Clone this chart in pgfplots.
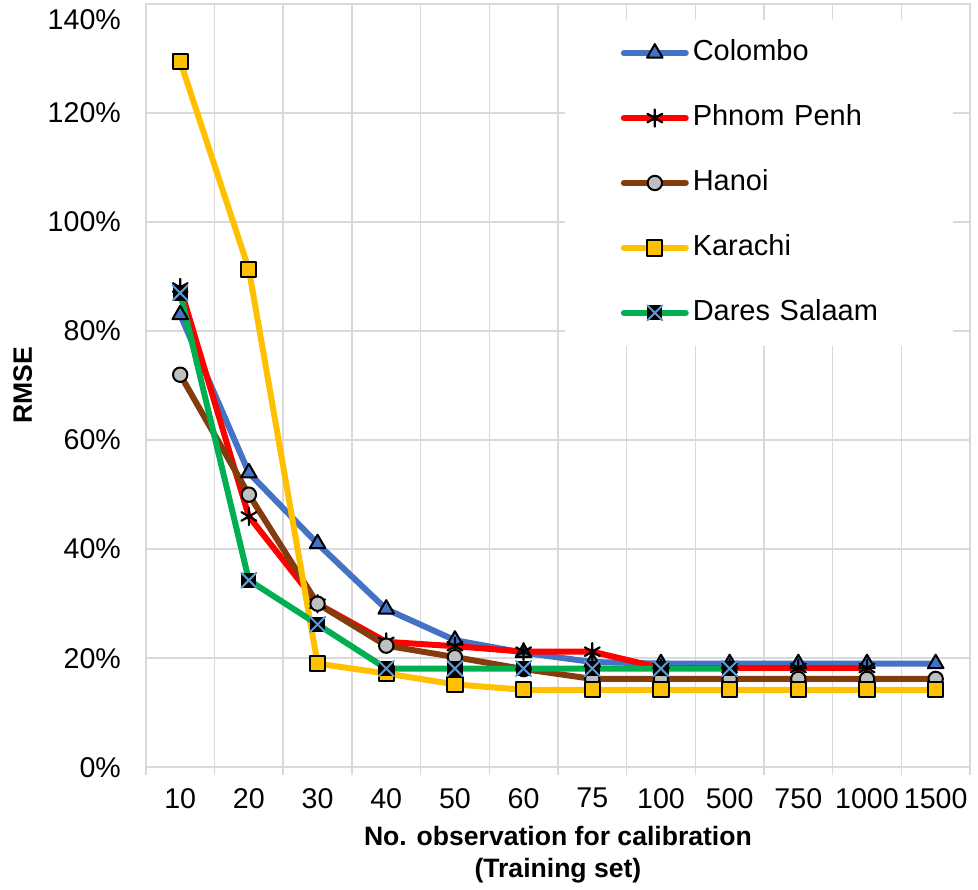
\documentclass[border=0pt]{standalone}
\usepackage{fontspec}
\setmainfont{Liberation Sans}
\usepackage{pgfplots}
\pgfplotsset{compat=1.18}

\definecolor{gridc}{HTML}{D9D9D9}
\definecolor{colombo}{HTML}{4472C4}
\definecolor{phnom}{HTML}{FF0000}
\definecolor{hanoi}{HTML}{843C0C}
\definecolor{hanoimk}{HTML}{BFBFBF}
\definecolor{karachi}{HTML}{FFC000}
\definecolor{dares}{HTML}{00B050}
\definecolor{daresx}{HTML}{5B9BD5}

% black square with a light blue cross (Excel style)
\pgfdeclareplotmark{sqx}{%
  \pgfpathrectangle{\pgfqpoint{-\pgfplotmarksize}{-\pgfplotmarksize}}{\pgfqpoint{2\pgfplotmarksize}{2\pgfplotmarksize}}%
  \pgfsetfillcolor{black}\pgfusepath{fill}%
  \pgfsetstrokecolor{daresx}\pgfsetlinewidth{1pt}%
  \pgfpathmoveto{\pgfqpoint{-\pgfplotmarksize}{-\pgfplotmarksize}}%
  \pgfpathlineto{\pgfqpoint{\pgfplotmarksize}{\pgfplotmarksize}}%
  \pgfpathmoveto{\pgfqpoint{-\pgfplotmarksize}{\pgfplotmarksize}}%
  \pgfpathlineto{\pgfqpoint{\pgfplotmarksize}{-\pgfplotmarksize}}%
  \pgfusepath{stroke}%
}

\begin{document}
\begin{tikzpicture}
\begin{axis}[
    scale only axis,
    width=412.5pt, height=382pt,
    xmin=-0.5, xmax=11.5,
    ymin=0, ymax=140,
    xtick={0,...,11},
    xticklabels={10,20,30,40,50,60,75,100,500,750,1000,1500},
    minor xtick={-0.5,0.5,...,11.5},
    ytick={0,20,...,120},
    extra y ticks={140},
    extra y tick style={yticklabel style={yshift=-8pt}},
    yticklabel={\pgfmathprintnumber{\tick}\%},
    xminorgrids, ymajorgrids,
    grid style={draw=gridc, line width=0.75pt},
    minor grid style={draw=gridc, line width=0.75pt},
    axis line style={draw=gridc, line width=0.75pt},
    tick style={draw=gridc, line width=0.75pt},
    major tick length=0pt, minor tick length=4pt,
    tick align=outside, xtick pos=lower, ytick pos=left,
    /pgf/number format/assume math mode=true,
    tick label style={font=\fontsize{14.3}{16}\selectfont},
    xticklabel style={yshift=-7pt},
    yticklabel style={xshift=-9pt},
    every axis x label/.style={at={(rel axis cs:0.5,0)}, anchor=north, yshift=-26pt,
        align=center, font=\bfseries\fontsize{13.3}{16}\selectfont},
    every axis y label/.style={at={(rel axis cs:0,0.5)}, xshift=-57pt, rotate=90,
        anchor=base, font=\bfseries\fontsize{13.3}{16}\selectfont},
    xlabel={No. observation for calibration\\(Training set)},
    ylabel={RMSE},
    legend style={at={(rel axis cs:0.508,0.98)}, anchor=north west,
        fill=white, draw=none, inner xsep=28pt, inner ysep=10pt,
        font=\fontsize{14.5}{16}\selectfont, row sep=19pt,
        /tikz/every even column/.append style={text width=100pt},
        nodes={inner ysep=0pt, text height=10.5pt, text depth=3pt}},
    legend cell align=left,
    legend image code/.code={%
        \draw[mark repeat=2, mark phase=2, #1] plot coordinates {(0pt,0pt) (15.5pt,0pt) (31pt,0pt)};},
    every axis plot/.append style={line width=3pt, line cap=round, line join=round},
]
\addplot[colombo, mark=triangle*, mark size=4.5pt,
    mark options={fill=colombo, draw=black, line width=1pt}]
    coordinates {(0,83) (1,54) (2,41) (3,29) (4,23.3) (5,21) (6,19.3) (7,19) (8,19) (9,19) (10,19) (11,19)};
\addlegendentry{Colombo}
\addplot[phnom, mark=asterisk, mark size=4.3pt,
    mark options={draw=black, line width=1.1pt}]
    coordinates {(0,88) (1,46) (2,30) (3,23) (4,22.2) (5,21.2) (6,21.2) (7,18.2) (8,18.2) (9,18.2) (10,18.2)};
\addlegendentry{Phnom Penh}
\addplot[hanoi, mark=*, mark size=3.6pt,
    mark options={fill=hanoimk, draw=black, line width=1pt}]
    coordinates {(0,72) (1,50) (2,30) (3,22.3) (4,20.2) (5,18) (6,16.2) (7,16.2) (8,16.2) (9,16.2) (10,16.2) (11,16.2)};
\addlegendentry{Hanoi}
\addplot[karachi, mark=square*, mark size=3.8pt,
    mark options={fill=karachi, draw=black, line width=1pt}]
    coordinates {(0,129.5) (1,91.3) (2,19) (3,17.2) (4,15.2) (5,14.2) (6,14.2) (7,14.2) (8,14.2) (9,14.2) (10,14.2) (11,14.2)};
\addlegendentry{Karachi}
\addplot[dares, mark=sqx, mark size=3.8pt]
    coordinates {(0,87) (1,34.3) (2,26.2) (3,18.1) (4,18.1) (5,18.1) (6,18.1) (7,18.1) (8,18.1)};
\addlegendentry{Dares Salaam}
\end{axis}
% white margins round the plot area, as in the reference
\path ([shift={(4pt,2pt)}]current axis.north east);
\path ([xshift=-73pt]current axis.west);
\end{tikzpicture}
\end{document}
